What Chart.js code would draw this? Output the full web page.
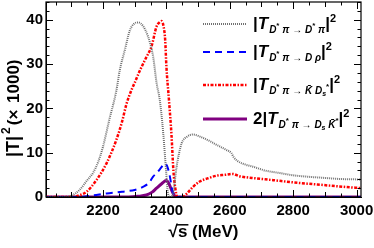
<!DOCTYPE html>
<html>
<head>
<meta charset="utf-8">
<script src="https://cdn.jsdelivr.net/npm/chart.js@4.4.0/dist/chart.umd.min.js"></script>
<style>
html, body { margin: 0; padding: 0; background: #fff; }
#wrap { width: 374px; height: 248px; }
</style>
</head>
<body>
<div id="wrap"><canvas id="chart"></canvas></div>
<script>
// sqrt(s) in MeV and |T|^2 (x1000), one channel at a time
const sDstarPi = [2020, 2070, 2100, 2126, 2150, 2168, 2185, 2200, 2220, 2242, 2253, 2270, 2284, 2298, 2311, 2326, 2342, 2358, 2369, 2379, 2390, 2398, 2405, 2412, 2421, 2432, 2448, 2465, 2485, 2510, 2540, 2568, 2590, 2605, 2612, 2625, 2650, 2675, 2710, 2758, 2800, 2842, 2900, 2947, 3014];
const tDstarPi = [0, 0, 0.3, 1.6, 3.8, 5.4, 8, 11.4, 17.5, 24, 28.7, 33.5, 37.5, 39.1, 39.4, 38.6, 36.2, 31.7, 25.7, 21.9, 14.4, 6.8, 0.8, 0, 0.8, 6.8, 12.1, 13.6, 14.1, 13.5, 12.5, 11.4, 10.6, 9.9, 9.0, 8.1, 7.3, 6.8, 6.0, 5.4, 4.9, 4.6, 4.3, 4.07, 3.95];

const sDrho = [2020, 2130, 2152, 2211, 2260, 2300, 2326, 2345, 2358, 2372, 2385, 2395, 2402, 2411, 2417, 2421, 2426, 3014];
const tDrho = [0, 0, 0.2, 0.8, 1.2, 1.6, 2.3, 3.2, 4.6, 5.6, 6.8, 7.6, 7.0, 4.6, 2.0, 0.8, 0, 0];

const sKbarDs = [2020, 2100, 2126, 2148, 2179, 2211, 2242, 2260, 2274, 2290, 2300, 2316, 2335, 2353, 2369, 2378, 2385, 2391, 2396, 2400, 2408, 2416, 2422, 2428, 2434, 2450, 2465, 2484, 2505, 2530, 2558, 2585, 2609, 2630, 2670, 2737, 2800, 2895, 2960, 3014];
const tKbarDs = [0, 0, 0.4, 1.2, 3.8, 7.6, 12.9, 17, 21, 24.2, 25.8, 28.5, 31.3, 34, 38.5, 39.4, 39.7, 38.5, 35.5, 29.4, 21.9, 14, 6, 2, 0, 0, 0.8, 2.3, 3.5, 4.2, 4.8, 5.0, 5.2, 4.7, 4.3, 3.8, 3.3, 2.7, 2.3, 2.0];

const sDsKbar = [2020, 2280, 2310, 2337, 2355, 2369, 2385, 2400, 2408, 2416, 2422, 2430, 3014];
const tDsKbar = [0, 0, 0.15, 0.45, 1.1, 2.0, 3.0, 3.7, 3.0, 1.6, 0.7, 0, 0];

//tick labels on the axes
const xTickLabels = [2200, 2400, 2600, 2800, 3000];
const yTickLabels = [0, 10, 20, 30, 40];

const FONT = '"Liberation Sans", Arial, sans-serif';
const X_TITLE = '√s (MeV)';

function toPoints(s, t) {
    return s.map((v, i) => ({x: v, y: t[i]}));
}

//draws a list of [text, size, dy, italic] pieces one after the other
function drawPieces(ctx, x, y, pieces, spacing) {
    pieces.forEach(p => {
        ctx.font = (p[3] ? 'italic ' : '') + 'bold ' + p[1] + 'px ' + FONT;
        ctx.fillText(p[0], x, y + (p[2] || 0));
        x += ctx.measureText(p[0]).width + (p[0] === 'T' ? 1 : 0) + (spacing || 0);
    });
}

//the four curves, the legend reuses the same styles
const series = [
    {pts: toPoints(sDstarPi, tDstarPi), color: '#707070', width: 2, dash: [1, 1],
     label: [['|', 17], ['T', 17, 0, 1], ['D', 10, 4, 1], ['*', 8, -1], [' π → D', 10, 4, 1], ['*', 8, -1], [' π', 10, 4, 1], ['|', 17], ['2', 11, -7]]},
    {pts: toPoints(sDrho, tDrho), color: '#0000ff', width: 2, dash: [7, 5],
     label: [['|', 17], ['T', 17, 0, 1], ['D', 10, 4, 1], ['*', 8, -1], [' π → D ρ', 10, 4, 1], ['|', 17], ['2', 11, -7]]},
    {pts: toPoints(sKbarDs, tKbarDs), color: '#ff0000', width: 2.5, dash: [3, 1.5, 1.5, 1.5],
     label: [['|', 17], ['T', 17, 0, 1], ['D', 10, 4, 1], ['*', 8, -1], [' π → K\u0304 D', 10, 4, 1], ['s', 7, 6, 1], ['*', 8, -1], ['|', 17], ['2', 11, -7]]},
    {pts: toPoints(sDsKbar, tDsKbar), color: '#800080', width: 3, dash: [],
     label: [['2|', 17], ['T', 17, 0, 1], ['D', 10, 4, 1], ['*', 8, -1], [' π → D', 10, 4, 1], ['s', 7, 6, 1], [' K\u0304', 10, 4, 1], ['*', 8, -1], ['|', 17], ['2', 11, -7]]}
];

//inside ticks on all four sides plus the frame, like the original plot
const frameTicks = {
    id: 'frameTicks',
    afterDatasetsDraw(chart) {
        const ctx = chart.ctx;
        const a = chart.chartArea;
        const x = chart.scales.x, y = chart.scales.y;
        ctx.save();
        ctx.strokeStyle = '#000';
        ctx.lineWidth = 1;
        ctx.beginPath();
        for (let v = 2050; v <= x.max; v += 50) {
            const px = Math.round(x.getPixelForValue(v)) + 0.5;
            const len = v % 200 === 0 ? 7 : (v % 100 === 0 ? 5 : 3.5);
            ctx.moveTo(px, a.bottom); ctx.lineTo(px, a.bottom - len);
            ctx.moveTo(px, a.top); ctx.lineTo(px, a.top + len);
        }
        for (let v = 0; v <= y.max; v += 2) {
            const py = Math.round(y.getPixelForValue(v)) + 0.5;
            const len = v % 10 === 0 ? 7 : 3.5;
            ctx.moveTo(a.left, py); ctx.lineTo(a.left + len, py);
            ctx.moveTo(a.right, py); ctx.lineTo(a.right - len, py);
        }
        ctx.stroke();
        ctx.lineWidth = 1.2;
        ctx.strokeRect(a.left, a.top, a.width, a.height);
        ctx.restore();
    }
};

//legend and y title with sub/superscripts, drawn by hand since the built in ones can't do them
const richText = {
    id: 'richText',
    afterDraw(chart) {
        const ctx = chart.ctx;
        const a = chart.chartArea;
        const rows = [22, 50, 83, 117];
        ctx.save();
        series.forEach((s, i) => {
            const yy = a.top + rows[i];
            ctx.strokeStyle = s.color;
            ctx.lineWidth = s.width;
            ctx.setLineDash(s.dash);
            ctx.beginPath();
            ctx.moveTo(203, yy); ctx.lineTo(247, yy);
            ctx.stroke();
            ctx.setLineDash([]);
            ctx.fillStyle = '#000';
            ctx.textBaseline = 'alphabetic';
            drawPieces(ctx, 253, yy + 5, s.label);
        });
        //bar over the s of the x title (the title itself is the scale's own)
        ctx.font = 'bold 17px ' + FONT;
        const full = ctx.measureText(X_TITLE).width;
        const root = ctx.measureText('√').width;
        const sw = ctx.measureText('s').width;
        const x0 = (a.left + a.right) / 2 - full / 2 + root;
        const ty = chart.height - 5 - 10.2 - 8;
        ctx.strokeStyle = '#000';
        ctx.lineWidth = 1.5;
        ctx.beginPath();
        ctx.moveTo(x0 - 1, ty); ctx.lineTo(x0 + sw + 1, ty);
        ctx.stroke();
        //y axis title, rotated
        ctx.translate(14, 157);
        ctx.rotate(-Math.PI / 2);
        ctx.textBaseline = 'middle';
        ctx.fillStyle = '#000';
        drawPieces(ctx, 0, 0, [['|T|', 18], ['2', 12, -7], ['(×', 17], [' 1000)', 17]], 2);
        ctx.restore();
    }
};

new Chart(document.getElementById('chart').getContext('2d'), {
    type: 'line',
    data: {
        datasets: series.map(s => ({
            data: s.pts,
            borderColor: s.color,
            borderWidth: s.width,
            borderDash: s.dash,
            pointRadius: 0,
            fill: false,
            cubicInterpolationMode: 'monotone'
        }))
    },
    options: {
        responsive: true,
        maintainAspectRatio: false,
        animation: false,
        layout: {padding: {top: 2, right: 13, left: 0, bottom: 0}},
        plugins: {legend: {display: false}, tooltip: {enabled: false}},
        scales: {
            x: {
                type: 'linear',
                min: 2020,
                max: 3014,
                grid: {display: false, drawTicks: false},
                border: {display: true, color: '#000'},
                afterBuildTicks: function(scale) { scale.ticks = xTickLabels.map(v => ({value: v})); },
                afterFit: function(scale) {
                    scale.height = 51;
                    scale.paddingLeft = 0;
                    scale.paddingRight = 0;
                },
                ticks: {
                    padding: 5,
                    color: '#000',
                    maxRotation: 0,
                    font: {family: FONT, size: 15, weight: 'bold'},
                    callback: v => String(v)
                },
                title: {
                    display: true,
                    text: X_TITLE,
                    color: '#000',
                    padding: {top: 0, bottom: 5},
                    font: {family: FONT, size: 17, weight: 'bold'}
                }
            },
            y: {
                min: 0,
                max: 44,
                grid: {display: false, drawTicks: false},
                border: {display: true, color: '#000'},
                afterBuildTicks: function(scale) { scale.ticks = yTickLabels.map(v => ({value: v})); },
                afterFit: function(scale) {
                    scale.width = 46;
                    scale.paddingTop = 0;
                    scale.paddingBottom = 0;
                },
                ticks: {
                    padding: 3,
                    color: '#000',
                    font: {family: FONT, size: 15, weight: 'bold'}
                }
            }
        }
    },
    plugins: [frameTicks, richText]
});
</script>
</body>
</html>
